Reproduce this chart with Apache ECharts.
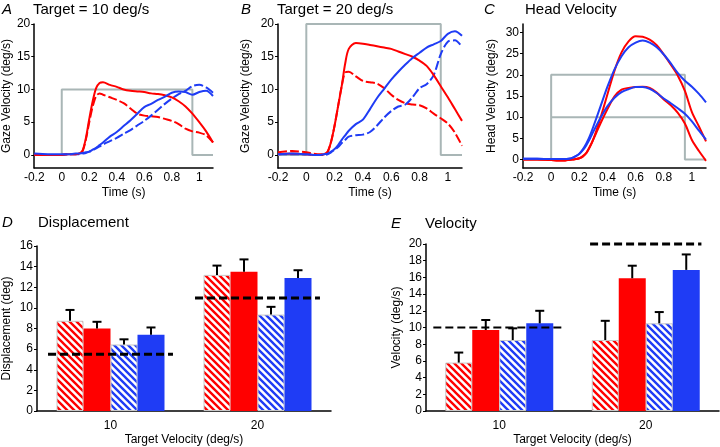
<!DOCTYPE html>
<html>
<head>
<meta charset="utf-8">
<script src="https://cdn.jsdelivr.net/npm/echarts@6/dist/echarts.min.js"></script>
<style>
  html, body { margin: 0; padding: 0; background: #fff; }
  #chart { width: 720px; height: 447px; }
</style>
</head>
<body>
<div id="chart"></div>
<script>
// sample times (s) shared by the velocity traces
const T = [-0.2, -0.1, 0, 0.05, 0.1, 0.125, 0.15, 0.175, 0.2, 0.225, 0.25, 0.275, 0.3, 0.35, 0.4,
  0.45, 0.5, 0.55, 0.6, 0.65, 0.7, 0.75, 0.8, 0.85, 0.9, 0.95, 1.0, 1.05, 1.1];

// A: target 10 deg/s, gaze velocity
const aRed      = [0, 0, 0, 0.1, 0.1, 0.2, 0.6, 2.5, 5.5, 8.2, 10.2, 11.0, 11.1, 10.7, 10.4, 10.0, 9.8, 9.7, 9.6, 9.4, 9.3, 9.1, 8.8, 8.2, 7.4, 6.3, 5.0, 3.6, 1.9];
const aRedDash  = [0, 0, 0, 0.1, 0.1, 0.2, 0.5, 2.3, 5.0, 7.4, 9.0, 9.4, 9.2, 8.8, 8.4, 7.9, 7.1, 6.3, 6.0, 5.9, 5.8, 5.5, 5.2, 4.7, 4.0, 3.6, 3.4, 3.0, 1.9];
const aBlue     = [0.2, 0.1, 0.1, 0.1, 0.2, 0.2, 0.3, 0.4, 0.5, 0.8, 1.1, 1.5, 1.9, 2.8, 3.5, 4.4, 5.3, 6.3, 7.3, 7.8, 8.4, 8.9, 9.5, 9.7, 9.6, 9.2, 9.6, 9.8, 9.0];
const aBlueDash = [0, 0, 0, 0.1, 0.1, 0.1, 0.2, 0.3, 0.5, 0.7, 1.0, 1.3, 1.6, 2.1, 2.6, 3.2, 3.8, 4.5, 5.2, 6.0, 6.9, 7.8, 8.6, 9.3, 9.8, 10.5, 10.7, 10.3, 9.5];

// B: target 20 deg/s, gaze velocity
const bRed      = [0.1, 0.2, 0.1, 0, 0, 0.1, 0.5, 2.0, 4.5, 7.5, 10.5, 14.0, 16.2, 17.1, 17.0, 16.8, 16.6, 16.4, 16.2, 15.8, 15.4, 15.0, 14.4, 13.6, 12.2, 10.5, 8.8, 7.0, 5.2];
const bRedDash  = [0.4, 0.6, 0.4, 0.2, 0.1, 0.1, 0.4, 2.0, 4.5, 7.5, 10.5, 12.6, 12.7, 12.0, 11.3, 11.1, 10.9, 10.2, 9.2, 8.4, 7.9, 7.7, 7.6, 7.1, 6.3, 5.6, 4.8, 3.4, 1.4];
const bBlue     = [0.1, 0.2, 0.1, 0, 0, 0.1, 0.2, 0.5, 0.9, 1.5, 2.3, 3.0, 3.7, 4.7, 5.4, 7.0, 8.7, 10.1, 11.5, 12.7, 13.8, 14.8, 15.6, 16.4, 16.9, 17.4, 18.5, 18.9, 18.2];
const bBlueDash = [0.1, 0.1, 0.1, 0, 0, 0, 0.1, 0.4, 0.8, 1.2, 1.8, 2.3, 2.8, 3.0, 3.1, 3.5, 4.5, 5.7, 6.7, 7.4, 7.7, 8.8, 10.2, 10.8, 12.2, 15.4, 17.3, 17.5, 16.5];

// C: head velocity, 20 and 10 deg/s targets
const cRedHigh  = [0, 0, -0.1, -0.2, -0.2, -0.1, 0, 0.1, 0.3, 0.8, 1.6, 3.0, 4.8, 9.8, 15.4, 21.0, 25.3, 27.9, 29.1, 29.0, 28.3, 27.0, 24.8, 22.4, 19.8, 16.2, 11.2, 7.8, 4.3];
const cBlueHigh = [0.2, 0.2, 0.1, 0.1, 0.1, 0.2, 0.4, 0.8, 1.4, 2.4, 3.8, 5.6, 7.8, 12.5, 17.2, 21.3, 24.4, 26.5, 27.6, 28.1, 27.6, 26.5, 24.8, 22.7, 20.4, 18.6, 17.2, 15.5, 13.5];
const cRedLow   = [0, 0, -0.1, -0.2, -0.2, -0.1, 0, 0.1, 0.3, 0.7, 1.5, 3.0, 4.8, 8.5, 11.9, 14.9, 16.5, 16.9, 17.1, 17.2, 16.9, 15.8, 14.2, 12.8, 11.0, 8.5, 4.6, 2.0, -0.3];
const cBlueLow  = [0.2, 0.2, 0.1, 0.1, 0.1, 0.2, 0.4, 0.8, 1.3, 2.2, 3.4, 4.9, 6.6, 9.8, 12.6, 14.6, 15.9, 16.6, 17.1, 17.1, 16.7, 15.7, 14.4, 13.3, 12.1, 10.8, 9.0, 6.8, 4.7];

// target velocity steps
const stepT   = [-0.2, 0, 0, 0.95, 0.95, 1.1];
const step10  = [0, 0, 10, 10, 0, 0];
const step20  = [0, 0, 20, 20, 0, 0];
const plateauT = [0, 0.95];
const plateau10 = [10, 10];

const timeTicks = [-0.2, 0, 0.2, 0.4, 0.6, 0.8, 1];
const gazeTicks = [0, 5, 10, 15, 20];
const headTicks = [0, 5, 10, 15, 20, 25, 30];

// D/E bar data: hatched red, red, hatched blue, blue
const categories = ['10', '20'];
const dispRedHatch = [8.75, 13.2],  dispRedHatchSE = [1.05, 0.9];
const dispRed      = [8.0, 13.5],   dispRedSE      = [0.65, 1.2];
const dispBlueHatch = [6.45, 9.35], dispBlueHatchSE = [0.5, 0.75];
const dispBlue     = [7.4, 12.9],   dispBlueSE     = [0.7, 0.75];
const dispTarget   = [5.5, 10.95];

const velRedHatch = [5.8, 8.5],    velRedHatchSE = [1.2, 2.3];
const velRed      = [9.7, 15.9],   velRedSE      = [1.2, 1.5];
const velBlueHatch = [8.5, 10.5],  velBlueHatchSE = [1.4, 1.35];
const velBlue     = [10.5, 16.9],  velBlueSE     = [1.5, 1.85];
const velTarget   = [10, 20];

const FONT = "'Liberation Sans', Arial, sans-serif";
const RED = '#ff0000', BLUE = '#1f3cf5', GRAY = '#a9b6b6';
const BAR_W = 27;

function hatch(color) {
  const s = 7;
  const c = document.createElement('canvas');
  c.width = s; c.height = s;
  const g = c.getContext('2d');
  g.fillStyle = '#fff';
  g.fillRect(0, 0, s, s);
  g.strokeStyle = color;
  g.lineWidth = 2.4;
  g.beginPath();
  g.moveTo(-2, -2); g.lineTo(s + 2, s + 2);
  g.moveTo(-2, s - 2); g.lineTo(2, s + 2);
  g.moveTo(s - 2, -2); g.lineTo(s + 2, 2);
  g.stroke();
  return c;
}

const pairs = (xs, ys) => xs.map((x, i) => [x, ys[i]]);
const axisLine = { onZero: false, lineStyle: { color: '#000', width: 1.5 } };
const labelStyle = { color: '#000', fontSize: 12, fontFamily: FONT };
const nameStyle = { color: '#000', fontSize: 12, fontFamily: FONT };

function timeAxis(gi) {
  return {
    type: 'value', gridIndex: gi, min: -0.2, max: 1.1,
    name: 'Time (s)', nameLocation: 'middle', nameGap: 19, nameTextStyle: nameStyle,
    axisLine: axisLine,
    axisTick: { show: false },
    axisLabel: Object.assign({ customValues: timeTicks, margin: 4 }, labelStyle),
    splitLine: { show: false }
  };
}
function velAxis(gi, name, max, ticks, gap) {
  return {
    type: 'value', gridIndex: gi, min: -2, max: max,
    name: name, nameLocation: 'middle', nameGap: gap, nameTextStyle: nameStyle,
    axisLine: axisLine,
    axisTick: { length: 3, customValues: ticks, lineStyle: { color: '#000' } },
    axisLabel: Object.assign({ customValues: ticks, margin: 4 }, labelStyle),
    splitLine: { show: false }
  };
}
function trace(gi, arr, color, dashed) {
  return {
    type: 'line', xAxisIndex: gi, yAxisIndex: gi, data: pairs(T, arr),
    showSymbol: false, smooth: 0.3, z: 3, silent: true,
    lineStyle: { color: color, width: 2, type: dashed ? [9, 3] : 'solid' }
  };
}
function stepLine(gi, xs, ys) {
  return {
    type: 'line', xAxisIndex: gi, yAxisIndex: gi, data: pairs(xs, ys),
    showSymbol: false, z: 2, silent: true, lineStyle: { color: GRAY, width: 2 }
  };
}
function catAxis(gi) {
  return {
    type: 'category', gridIndex: gi, data: categories,
    name: 'Target Velocity (deg/s)', nameLocation: 'middle', nameGap: 23, nameTextStyle: nameStyle,
    axisLine: { lineStyle: { color: '#000', width: 1.5 } },
    axisTick: { length: 4, lineStyle: { color: '#000' } },
    axisLabel: Object.assign({ margin: 9 }, labelStyle)
  };
}
function barAxis(gi, name, max, gap) {
  return {
    type: 'value', gridIndex: gi, min: 0, max: max, interval: 2,
    name: name, nameLocation: 'middle', nameGap: gap, nameTextStyle: nameStyle,
    axisLine: { show: true, lineStyle: { color: '#000', width: 1.5 } },
    axisTick: { show: true, length: 3, lineStyle: { color: '#000' } },
    axisLabel: Object.assign({ margin: 4 }, labelStyle),
    splitLine: { show: false }
  };
}
function bars(gi, vals, fill, hatched) {
  return {
    type: 'bar', xAxisIndex: gi, yAxisIndex: gi, data: vals, barWidth: BAR_W, barGap: '0%',
    silent: true,
    itemStyle: hatched
      ? { color: { image: hatch(fill), repeat: 'repeat' }, borderColor: '#c8c8c8', borderWidth: 1 }
      : { color: fill }
  };
}
function errorBars(gi, groups) {
  const data = [];
  groups.forEach((g, k) => g[0].forEach((m, c) => data.push([c, k, m, g[1][c]])));
  return {
    type: 'custom', xAxisIndex: gi, yAxisIndex: gi, data: data, z: 5, silent: true,
    encode: { x: 0, y: 2 },
    renderItem(params, api) {
      const c = api.value(0), k = api.value(1), m = api.value(2), se = api.value(3);
      const p0 = api.coord([c, m]), p1 = api.coord([c, m + se]);
      const x = p0[0] + (k - 1.5) * BAR_W;
      const st = { stroke: '#000', lineWidth: 2 };
      return { type: 'group', children: [
        { type: 'line', shape: { x1: x, y1: p0[1], x2: x, y2: p1[1] }, style: st },
        { type: 'line', shape: { x1: x - 4.5, y1: p1[1], x2: x + 4.5, y2: p1[1] }, style: st }
      ] };
    }
  };
}
// dashed target line across each category; half length and width given per category
function targetLine(gi, vals, half, widths) {
  return {
    type: 'custom', xAxisIndex: gi, yAxisIndex: gi, data: vals.map((v, c) => [c, v]), z: 6, silent: true,
    renderItem(params, api) {
      const c = api.value(0);
      const p = api.coord([c, api.value(1)]);
      const band = api.size([1, 0])[0];
      return { type: 'line',
        shape: { x1: p[0] - half[c] * band, y1: p[1], x2: p[0] + half[c] * band, y2: p[1] },
        style: { stroke: '#000', lineWidth: widths[c], lineDash: [8, 4] } };
    }
  };
}

const chart = echarts.init(document.getElementById('chart'));

function txt(left, top, text, italic) {
  return { type: 'text', left: left, top: top, silent: true,
    style: { text: text, fill: '#000', fontSize: 15, fontFamily: FONT, fontStyle: italic ? 'italic' : 'normal' } };
}

chart.setOption({
  animation: false,
  backgroundColor: '#fff',
  graphic: [
    txt(2, 2, 'A', true), txt(33, 2, 'Target = 10 deg/s'),
    txt(241, 2, 'B', true), txt(277, 2, 'Target = 20 deg/s'),
    txt(484, 2, 'C', true), txt(525, 2, 'Head Velocity'),
    txt(2, 215, 'D', true), txt(38, 215, 'Displacement'),
    txt(391, 216, 'E', true), txt(425, 216, 'Velocity')
  ],
  grid: [
    { left: 31, top: 24, width: 182, height: 144 },
    { left: 278, top: 24, width: 184, height: 144 },
    { left: 523, top: 24, width: 183, height: 144 },
    { left: 36, top: 246, width: 295, height: 165 },
    { left: 426, top: 244, width: 293, height: 167 }
  ],
  xAxis: [timeAxis(0), timeAxis(1), timeAxis(2), catAxis(3), catAxis(4)],
  yAxis: [
    velAxis(0, 'Gaze Velocity (deg/s)', 20, gazeTicks, 17),
    velAxis(1, 'Gaze Velocity (deg/s)', 20, gazeTicks, 26),
    velAxis(2, 'Head Velocity (deg/s)', 32, headTicks, 25),
    barAxis(3, 'Displacement (deg)', 16, 24),
    barAxis(4, 'Velocity (deg/s)', 20, 23)
  ],
  series: [
    stepLine(0, stepT, step10),
    trace(0, aRedDash, RED, true), trace(0, aBlueDash, BLUE, true),
    trace(0, aRed, RED, false), trace(0, aBlue, BLUE, false),

    stepLine(1, stepT, step20),
    trace(1, bRedDash, RED, true), trace(1, bBlueDash, BLUE, true),
    trace(1, bRed, RED, false), trace(1, bBlue, BLUE, false),

    stepLine(2, stepT, step20), stepLine(2, plateauT, plateau10),
    trace(2, cRedHigh, RED, false), trace(2, cRedLow, RED, false),
    trace(2, cBlueHigh, BLUE, false), trace(2, cBlueLow, BLUE, false),

    bars(3, dispRedHatch, RED, true), bars(3, dispRed, RED, false),
    bars(3, dispBlueHatch, BLUE, true), bars(3, dispBlue, BLUE, false),
    errorBars(3, [[dispRedHatch, dispRedHatchSE], [dispRed, dispRedSE], [dispBlueHatch, dispBlueHatchSE], [dispBlue, dispBlueSE]]),
    targetLine(3, dispTarget, [0.425, 0.425], [3, 3]),

    bars(4, velRedHatch, RED, true), bars(4, velRed, RED, false),
    bars(4, velBlueHatch, BLUE, true), bars(4, velBlue, BLUE, false),
    errorBars(4, [[velRedHatch, velRedHatchSE], [velRed, velRedSE], [velBlueHatch, velBlueHatchSE], [velBlue, velBlueSE]]),
    targetLine(4, velTarget, [0.45, 0.38], [2.2, 3])
  ]
});
</script>
</body>
</html>
